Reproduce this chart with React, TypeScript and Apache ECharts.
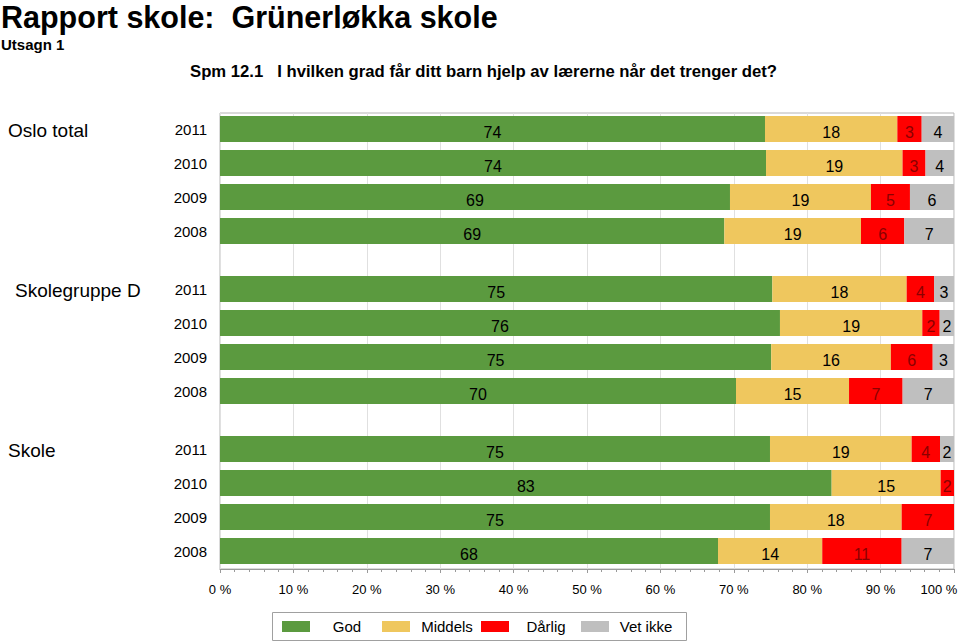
import React, { useEffect, useRef } from "react";
import * as echarts from "echarts";

const groups = ["Oslo total", "Skolegruppe D", "Skole"];
const years = ["2011", "2010", "2009", "2008"];
const seriesNames = ["God", "Middels", "Dårlig", "Vet ikke"];
// order: Oslo total 2011..2008, Skolegruppe D 2011..2008, Skole 2011..2008
const god = [74.25, 74.39, 69.48, 68.71, 75.25, 76.29, 75.1, 70.3, 74.93, 83.33, 74.93, 67.85];
const middels = [18.03, 18.6, 19.21, 18.62, 18.3, 19.39, 16.3, 15.4, 19.3, 14.85, 17.94, 14.2];
const darlig = [3.32, 3.13, 5.31, 5.9, 3.73, 2.37, 5.7, 7.3, 3.86, 1.82, 7.13, 10.82];
const vetIkke = [4.4, 3.88, 6.0, 6.77, 2.72, 1.95, 2.9, 7.0, 1.91, 0, 0, 7.13];
const xTicks = [0, 10, 20, 30, 40, 50, 60, 70, 80, 90, 100];

const colors = ["#5b9a3f", "#efc75e", "#ff0000", "#bfbfbf"];
const labelColors = ["#000", "#000", "#8b0000", "#000"];
const FONT = "Liberation Sans, Arial, Helvetica, sans-serif";

export default function App() {
  const ref = useRef<HTMLDivElement>(null);
  useEffect(() => {
    if (!ref.current) return;
    const chart = echarts.init(ref.current, undefined, { renderer: "svg" });
    const values = [god, middels, darlig, vetIkke];
    const gridTops = [112, 272, 432];
    const grids: any[] = gridTops.map((t) => ({ left: 220, right: 6, top: t, height: 136, outerBoundsMode: "none" }));
    grids.push({
      left: 220,
      right: 6,
      top: 113,
      bottom: 74,
      show: true,
      borderColor: "#b4b4b4",
      borderWidth: 1,
      backgroundColor: "transparent",
      outerBoundsMode: "none",
    });

    const xMax = xTicks[xTicks.length - 1];
    const xAxes: any[] = gridTops.map((_, i) => ({ type: "value", gridIndex: i, min: 0, max: 100, show: false }));
    xAxes.push({
      type: "value",
      gridIndex: 3,
      min: xTicks[0],
      max: xMax,
      interval: 10,
      axisLine: { show: true, lineStyle: { color: "#9a9a9a" } },
      axisTick: { show: true, length: 4, lineStyle: { color: "#9a9a9a" } },
      minorTick: { show: true, splitNumber: 5, length: 3, lineStyle: { color: "#9a9a9a" } },
      splitLine: { show: true, lineStyle: { color: "#e0e0e0", width: 1 } },
      axisLabel: {
        fontSize: 13,
        color: "#000",
        fontFamily: FONT,
        margin: 14,
        formatter: (v: number) => (v === xMax ? `{last|${v} %}` : `${v} %`),
        rich: { last: { fontSize: 13, fontFamily: FONT, color: "#000", padding: [0, 30, 0, 0] } },
      },
    });
    const yAxes: any[] = gridTops.map((_, i) => ({
      type: "category",
      gridIndex: i,
      data: years,
      inverse: true,
      axisLine: { show: false },
      axisTick: { show: false },
      axisLabel: { fontSize: 15, color: "#000", fontFamily: FONT, margin: 13 },
    }));
    yAxes.push({ type: "value", gridIndex: 3, show: false });

    const series: any[] = [];
    groups.forEach((g, gi) => {
      seriesNames.forEach((name, si) => {
        series.push({
          type: "bar",
          name,
          stack: "s" + gi,
          xAxisIndex: gi,
          yAxisIndex: gi,
          barWidth: 26,
          itemStyle: { color: colors[si] },
          label: {
            show: true,
            position: "inside",
            offset: [0, 3],
            fontSize: 16,
            fontFamily: FONT,
            color: labelColors[si],
            formatter: (p: any) => (p.value > 0 ? String(Math.round(p.value)) : ""),
          },
          data: values[si].slice(gi * 4, gi * 4 + 4).map((v) => (v > 0 ? v : null)),
        });
      });
    });

    const legendLefts = [282, 382, 481, 581];
    const legends = seriesNames.map((name, i) => ({
      data: [name],
      left: legendLefts[i],
      top: 619,
      padding: 0,
      icon: "rect",
      itemWidth: 28,
      itemHeight: 11,
      selectedMode: false,
      formatter: "{c|{name}}",
      textStyle: {
        fontSize: 15,
        fontFamily: FONT,
        color: "#000",
        rich: { c: { width: 64, align: "center", fontSize: 15, fontFamily: FONT, color: "#000" } },
      },
    }));

    chart.setOption({
      animation: false,
      grid: grids,
      xAxis: xAxes,
      yAxis: yAxes,
      legend: legends,
      graphic: [
        { type: "text", left: 1, top: 1, style: { text: "Rapport skole:  Grünerløkka skole", font: `bold 30.5px ${FONT}`, fill: "#000" } },
        { type: "text", left: 1, top: 37, style: { text: "Utsagn 1", font: `bold 15px ${FONT}`, fill: "#000" } },
        { type: "text", left: 190, top: 63, style: { text: "Spm 12.1   I hvilken grad får ditt barn hjelp av lærerne når det trenger det?", font: `bold 16.7px ${FONT}`, fill: "#000" } },
        { type: "text", left: 8, top: 121, style: { text: groups[0], font: `19px ${FONT}`, fill: "#000" } },
        { type: "text", left: 15, top: 281, style: { text: groups[1], font: `19px ${FONT}`, fill: "#000" } },
        { type: "text", left: 8, top: 441, style: { text: groups[2], font: `19px ${FONT}`, fill: "#000" } },
        { type: "rect", shape: { x: 272.5, y: 612.5, width: 414, height: 28 }, style: { fill: "none", stroke: "#a0a0a0", lineWidth: 1 } },
      ],
      series,
    });
    return () => chart.dispose();
  }, []);
  return <div ref={ref} style={{ position: "absolute", left: 0, top: 0, width: 960, height: 643 }} />;
}
